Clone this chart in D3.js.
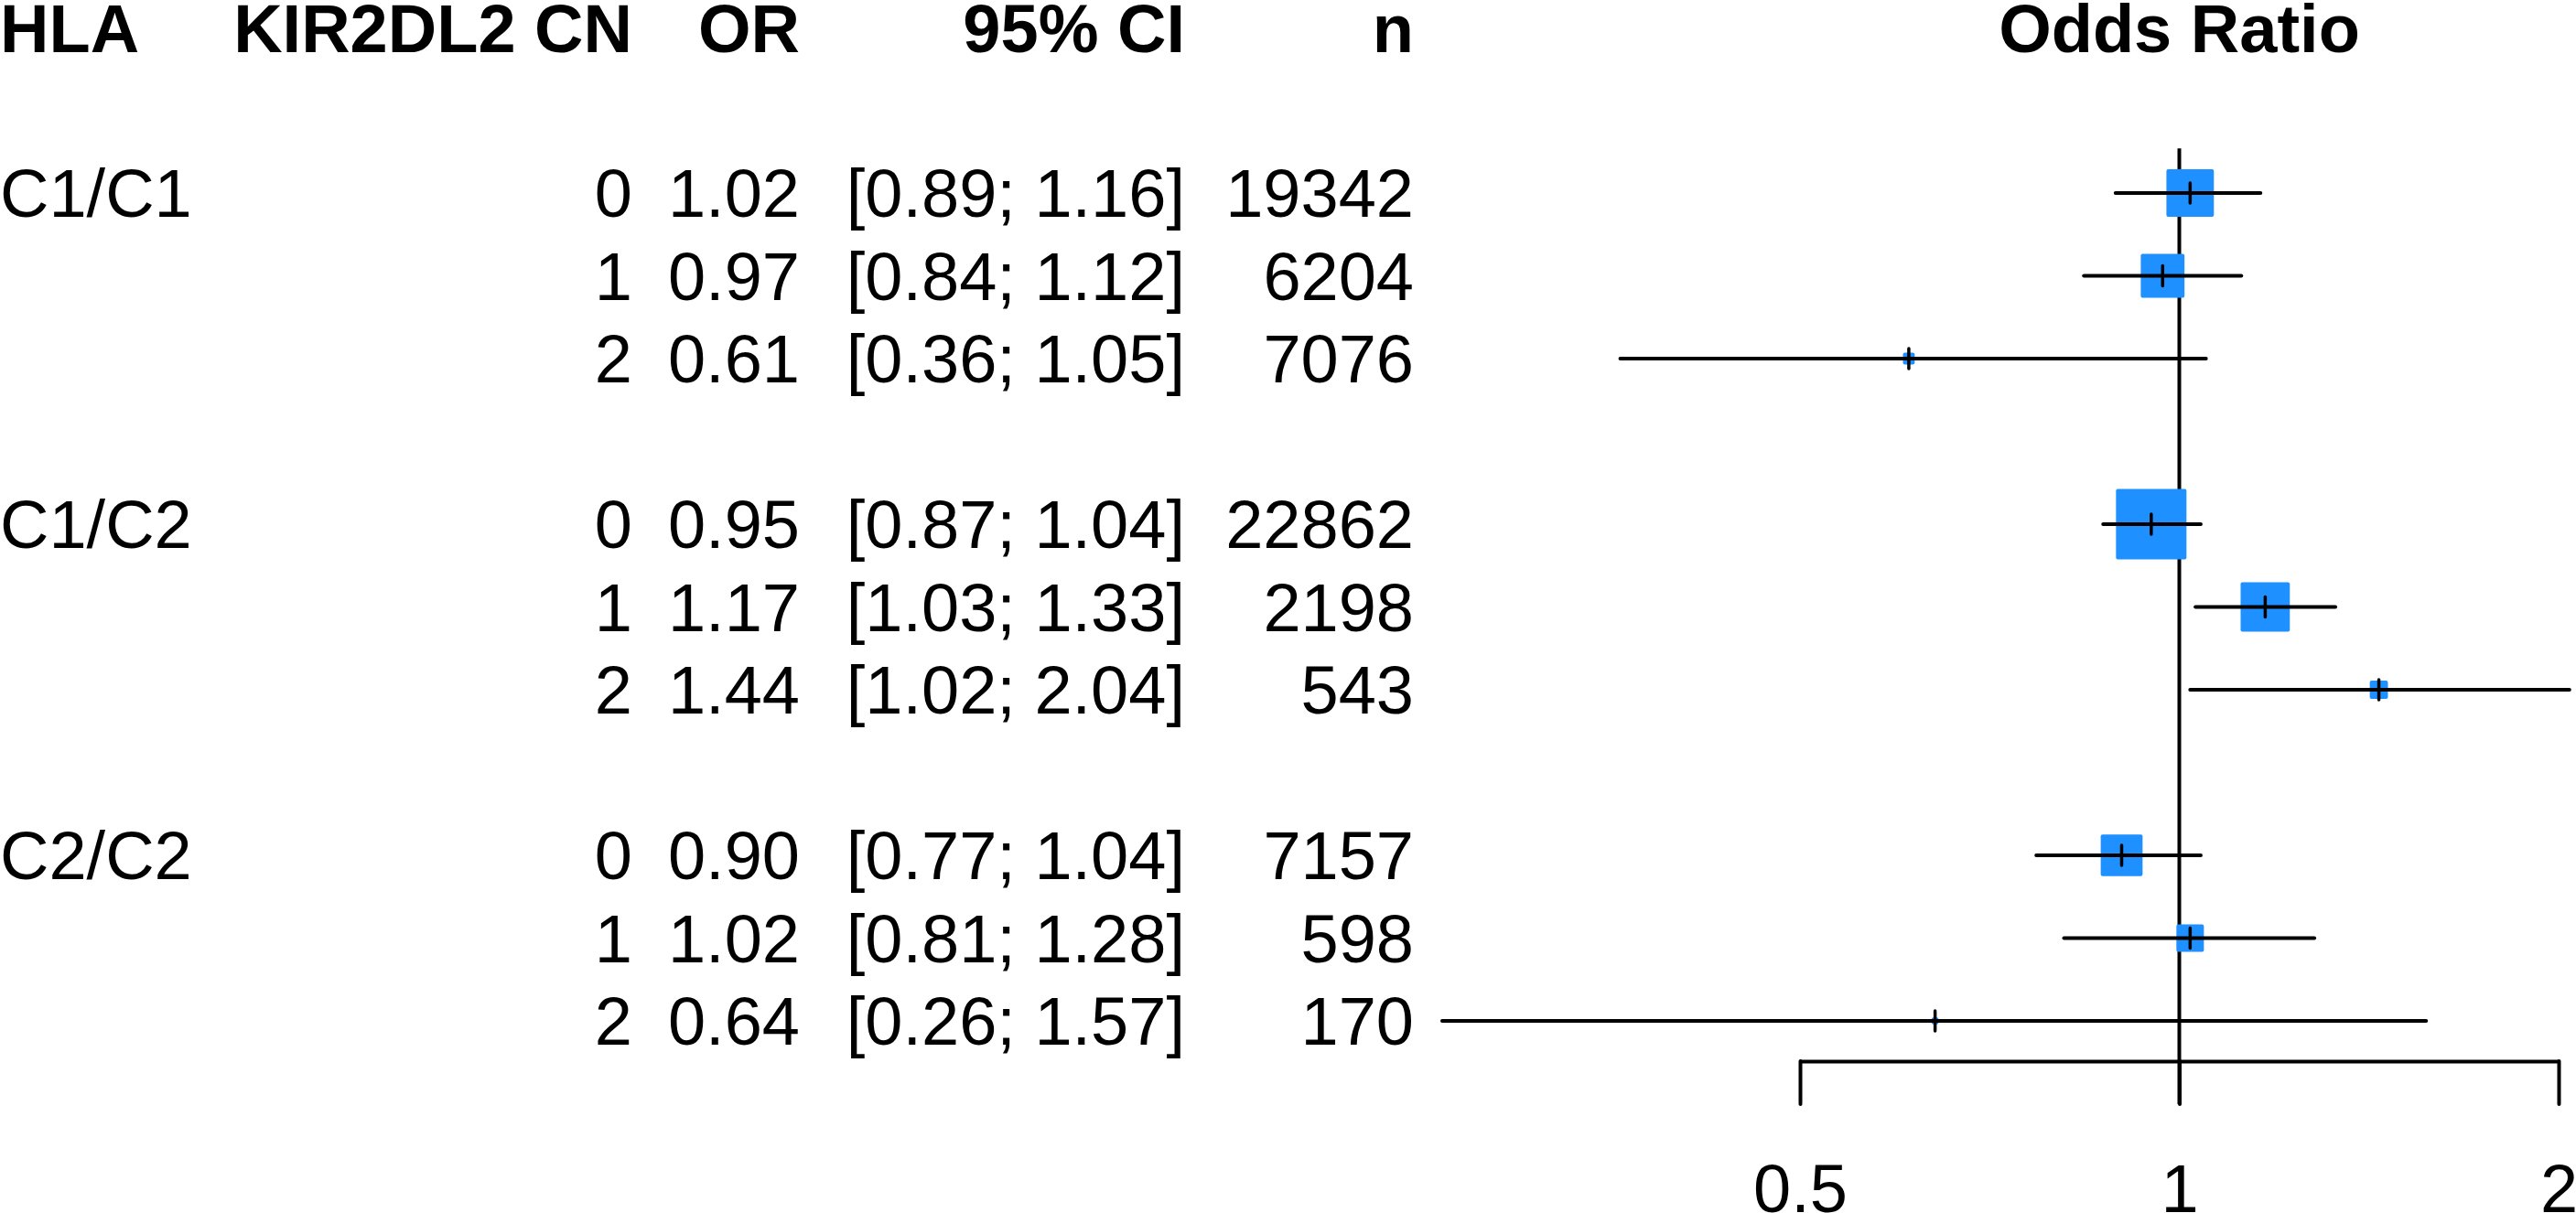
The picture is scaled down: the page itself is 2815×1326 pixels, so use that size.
<!DOCTYPE html>
<html>
<head>
<meta charset="utf-8">
<script src="https://cdn.jsdelivr.net/npm/d3@7"></script>
<style>
  html, body { margin: 0; padding: 0; background: #ffffff; }
  svg { display: block; }
  text { font-family: "Liberation Sans", Arial, Helvetica, sans-serif; fill: #000; }
</style>
</head>
<body>
<svg id="chart" width="2815" height="1326"></svg>
<script>
// ---------------- data ----------------
const columnHeaders = ["HLA", "KIR2DL2 CN", "OR", "95% CI", "n"];
const plotTitle = "Odds Ratio";
const hlaGroups = ["C1/C1", "C1/C2", "C2/C2"];
const copyNumbers = [0, 1, 2];
const oddsRatio = [1.02, 0.97, 0.61, 0.95, 1.17, 1.44, 0.90, 1.02, 0.64];
const ciLower   = [0.89, 0.84, 0.36, 0.87, 1.03, 1.02, 0.77, 0.81, 0.26];
const ciUpper   = [1.16, 1.12, 1.05, 1.04, 1.33, 2.04, 1.04, 1.28, 1.57];
const sampleN   = [19342, 6204, 7076, 22862, 2198, 543, 7157, 598, 170];
const tickValues = [0.5, 1, 2];

// ---------------- build rows ----------------
const rows = [];
hlaGroups.forEach((g, gi) => {
  copyNumbers.forEach((c, ci) => {
    const k = gi * copyNumbers.length + ci;
    const se = (Math.log(ciUpper[k]) - Math.log(ciLower[k])) / (2 * 1.959964);
    rows.push({
      group: ci === 0 ? g : "",
      cn: c,
      or: oddsRatio[k],
      lo: ciLower[k],
      hi: ciUpper[k],
      n: sampleN[k],
      w: 1 / (se * se),
      line: 2 + gi * (copyNumbers.length + 1) + ci
    });
  });
});

// ---------------- layout ----------------
const W = 2815, H = 1326;
const FS = 74;
const svg = d3.select("#chart");

const y = d3.scaleLinear().domain([0, 12]).range([30, 1116]);
const x = d3.scaleLog().domain([0.5, 2]).range([1967, 2796]);
const boxSize = d3.scaleSqrt().domain([0, d3.max(rows, d => d.w)]).range([0, 77]);

const capShift = FS * 0.358;  // puts the middle of capitals on the row line
const cols = [
  { anchor: "start", x: 0 },
  { anchor: "end", x: 691 },
  { anchor: "end", x: 874 },
  { anchor: "end", x: 1295 },
  { anchor: "end", x: 1545 }
];

// headers
svg.append("g").selectAll("text").data(columnHeaders).join("text")
  .attr("x", (d, i) => cols[i].x)
  .attr("y", y(0) + capShift)
  .attr("text-anchor", (d, i) => cols[i].anchor)
  .attr("font-size", FS)
  .attr("font-weight", "bold")
  .text(d => d);

svg.append("text")
  .attr("x", x(1))
  .attr("y", y(0) + capShift)
  .attr("text-anchor", "middle")
  .attr("font-size", FS)
  .attr("font-weight", "bold")
  .text(plotTitle);

// table body
const fmt = d3.format(".2f");
const cellText = [
  d => d.group,
  d => String(d.cn),
  d => fmt(d.or),
  d => "[" + fmt(d.lo) + "; " + fmt(d.hi) + "]",
  d => String(d.n)
];
const body = svg.append("g");
cellText.forEach((fn, i) => {
  body.append("g").selectAll("text").data(rows).join("text")
    .attr("x", cols[i].x)
    .attr("y", d => y(d.line) + capShift)
    .attr("text-anchor", cols[i].anchor)
    .attr("font-size", FS)
    .attr("xml:space", "preserve")
    .text(fn);
});

// reference line at OR = 1
const axisY = 1160;
const tickLen = 47;
svg.append("line")
  .attr("x1", x(1)).attr("x2", x(1))
  .attr("y1", y(1.46)).attr("y2", axisY + tickLen)
  .attr("stroke", "#000").attr("stroke-width", 4);

// boxes
svg.append("g").selectAll("rect").data(rows).join("rect")
  .attr("x", d => x(d.or) - boxSize(d.w) / 2)
  .attr("y", d => y(d.line) - boxSize(d.w) / 2)
  .attr("width", d => boxSize(d.w))
  .attr("height", d => boxSize(d.w))
  .attr("rx", 2)
  .attr("fill", "#1E90FF");

// CI lines
svg.append("g").selectAll("line").data(rows).join("line")
  .attr("x1", d => x(d.lo)).attr("x2", d => x(d.hi))
  .attr("y1", d => y(d.line)).attr("y2", d => y(d.line))
  .attr("stroke", "#000").attr("stroke-width", 4).attr("stroke-linecap", "round");

// point estimate ticks
svg.append("g").selectAll("line").data(rows).join("line")
  .attr("x1", d => x(d.or)).attr("x2", d => x(d.or))
  .attr("y1", d => y(d.line) - 11).attr("y2", d => y(d.line) + 11)
  .attr("stroke", "#000").attr("stroke-width", 3.5).attr("stroke-linecap", "round");

// x axis
const axis = d3.axisBottom(x)
  .tickValues(tickValues)
  .tickFormat(d => String(d))
  .tickSize(tickLen)
  .tickSizeOuter(0)
  .tickPadding(65);
const gAxis = svg.append("g").attr("transform", `translate(0,${axisY})`).call(axis);
gAxis.select(".domain").attr("stroke", "#000").attr("stroke-width", 4);
gAxis.selectAll(".tick line").attr("stroke", "#000").attr("stroke-width", 4).attr("stroke-linecap", "round");
gAxis.selectAll(".tick text")
  .attr("font-size", FS)
  .attr("font-family", "'Liberation Sans', Arial, Helvetica, sans-serif")
  .attr("fill", "#000");
</script>
</body>
</html>
